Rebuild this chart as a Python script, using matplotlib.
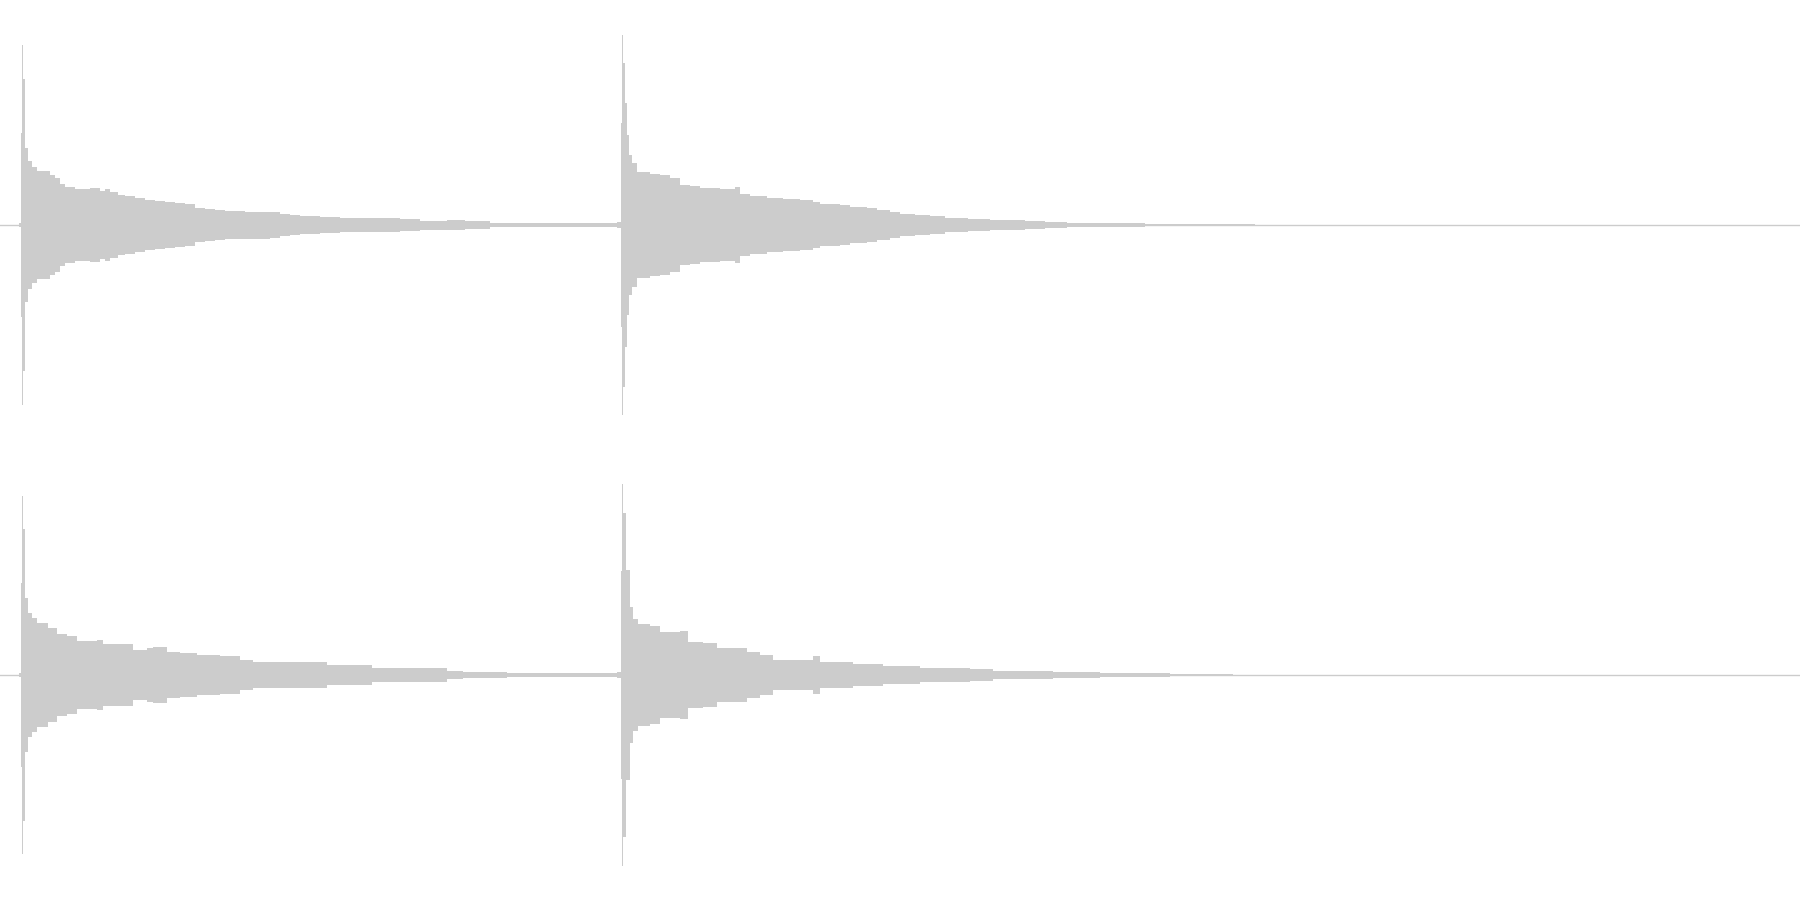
import matplotlib
matplotlib.use("Agg")
import matplotlib.pyplot as plt
import numpy as np

# Time in ms (segment start), amplitude envelope in percent of full scale
ch1_time = [0, 19, 21, 22, 23, 25, 28, 32, 37, 50, 55, 60, 65, 75, 90, 100, 105, 110, 118,
            125, 135, 145, 155, 165, 175, 185, 195, 205, 215, 225, 245, 270, 280, 290, 300,
            320, 340, 360, 385, 400, 420, 447, 465, 490, 567, 617, 621, 622, 623, 625, 627,
            629, 632, 637, 650, 660, 670, 680, 690, 700, 720, 735, 740, 750, 767, 783, 800,
            813, 820, 840, 850, 867, 877, 890, 900, 915, 930, 945, 968, 990, 1012, 1025, 1045,
            1067, 1100, 1133, 1145, 1235, 1255, 1800]
ch1_amp = [0, 0.7, 40.9, 80.0, 64.9, 34.2, 28.4, 25.8, 24.0, 22.2, 20.9, 18.2, 16.9, 16.0,
           16.4, 15.1, 16.0, 14.7, 13.3, 12.9, 12.0, 11.1, 10.7, 10.2, 9.8, 9.3, 7.6, 7.1,
           6.7, 6.2, 6.0, 5.8, 4.9, 4.4, 4.0, 3.6, 3.3, 2.9, 2.9, 2.7, 2.0, 2.2, 1.6, 1.1, 0.7,
           1.3, 45.3, 84.4, 72.0, 54.2, 40.0, 31.1, 27.6, 23.6, 22.7, 22.2, 20.9, 17.8, 17.3,
           16.4, 16.0, 16.9, 13.8, 12.9, 12.0, 11.6, 11.1, 10.2, 9.3, 8.9, 8.0, 7.6, 6.7, 5.8,
           4.9, 4.4, 4.0, 3.3, 2.8, 2.4, 2.2, 1.9, 1.3, 1.0, 0.9, 0.75, 0.45, 0.27, 0, 0]

ch2_time = [0, 19, 21, 22, 23, 25, 28, 32, 37, 48, 57, 67, 77, 97, 103, 133, 147, 153, 167,
            180, 197, 220, 240, 253, 287, 327, 372, 447, 463, 507, 617, 621, 622, 623, 626,
            630, 633, 638, 650, 660, 680, 688, 703, 717, 747, 760, 773, 813, 820, 853, 883,
            910, 920, 970, 993, 1020, 1053, 1100, 1170, 1233, 1255, 1800]
ch2_amp = [0, 0.7, 40.9, 79.6, 64.9, 34.2, 27.6, 25.3, 23.1, 20.9, 18.2, 17.3, 15.1, 15.6,
           13.8, 11.1, 12.0, 12.4, 10.2, 9.8, 8.9, 8.4, 6.7, 5.8, 5.6, 4.4, 3.0, 1.9, 1.5, 1.0,
           1.3, 46.2, 84.9, 72.0, 46.7, 30.2, 24.9, 22.7, 21.8, 19.1, 19.6, 14.7, 14.2, 12.0,
           10.2, 8.9, 6.7, 8.4, 5.8, 4.9, 4.2, 4.0, 3.1, 2.5, 1.9, 1.6, 1.2, 0.75, 0.45, 0.2,
           0, 0]

wave_color = "#cccccc"

fig = plt.figure(figsize=(18, 9), dpi=100)
fig.patch.set_facecolor("white")

channels = [(ch1_time, ch1_amp), (ch2_time, ch2_amp)]
for i, (t, a) in enumerate(channels):
    ax = fig.add_axes([0, 0.5 - 0.5 * i, 1, 0.5])
    t = np.asarray(t, dtype=float)
    a = np.asarray(a, dtype=float)
    ax.fill_between(t, -a, a, step="post", color=wave_color, linewidth=0,
                    antialiased=False)
    ax.axhline(0, color=wave_color, linewidth=1.0)
    ax.set_xlim(0, 1800)
    ax.set_ylim(-100, 100)
    ax.axis("off")

fig.savefig("out.png", dpi=100, facecolor="white")
